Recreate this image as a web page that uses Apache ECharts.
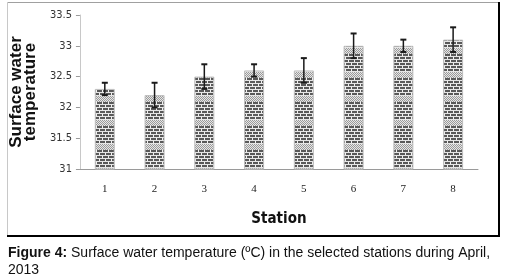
<!DOCTYPE html>
<html>
<head>
    <meta charset="utf-8">
    <title>ECharts</title>
    <script src="https://cdn.jsdelivr.net/npm/echarts@6/dist/echarts.min.js"></script>
    <style>
        body { margin: 0; background: #fff; }
        #main { width: 508px; height: 274px; }
    </style>
</head>
<body>
    <div id="main"></div>
    <script type="text/javascript">
    // data
    var stations = ['1', '2', '3', '4', '5', '6', '7', '8'];
    var temp = [32.3, 32.2, 32.5, 32.6, 32.6, 33.0, 33.0, 33.1];
    var errs = [0.1, 0.2, 0.2, 0.1, 0.2, 0.2, 0.1, 0.2];
    var yTicks = [31, 31.5, 32, 32.5, 33, 33.5];

    var narrow = '"DejaVu Sans Condensed", "Liberation Sans", sans-serif';

    // brick + dotted fill, like the excel pattern
    function makePattern() {
        var c = document.createElement('canvas');
        c.width = 12; c.height = 24;
        var g = c.getContext('2d');
        g.fillStyle = '#e6e6e6';
        g.fillRect(0, 0, 12, 24);
        // dotted part
        g.fillStyle = '#9a9a9a';
        for (var y = 0; y < 6; y++) {
            for (var x = (y % 2); x < 12; x += 2) g.fillRect(x, y, 1, 1);
        }
        // bricks
        for (var r = 0; r < 6; r++) {
            var yy = 6 + r * 3;
            g.fillStyle = '#595959';
            g.fillRect(0, yy, 12, 2);
            g.fillStyle = '#f2f2f2';
            var off = (r % 2) ? 3 : 0;
            g.fillRect(off, yy, 1, 2);
            g.fillRect(off + 6, yy, 1, 2);
        }
        return c;
    }

    var errData = temp.map(function (v, i) { return [i, v - errs[i], v + errs[i]]; });

    var myChart = echarts.init(document.getElementById('main'));
    var option = {
        backgroundColor: '#fff',
        animation: false,
        grid: { left: 79, right: 30, top: 15, bottom: 105 },
        xAxis: {
            type: 'category',
            data: stations,
            axisLine: { lineStyle: { color: '#9a9a9a', width: 1 } },
            axisTick: { show: false },
            axisLabel: { color: '#222', fontFamily: 'Liberation Serif', fontSize: 11, margin: 15 },
            name: 'Station',
            nameLocation: 'middle',
            nameGap: 43,
            nameTextStyle: { color: '#111', fontFamily: narrow, fontWeight: 'bold', fontSize: 15 }
        },
        yAxis: {
            type: 'value',
            min: yTicks[0],
            max: yTicks[yTicks.length - 1],
            interval: 0.5,
            splitLine: { show: false },
            axisLine: { show: true, lineStyle: { color: '#c8c8c8' } },
            axisTick: { show: true, length: 4, lineStyle: { color: '#9a9a9a' } },
            axisLabel: { color: '#333', fontFamily: narrow, fontSize: 11, margin: 8 },
            name: 'Surface water\ntemperature',
            nameLocation: 'middle',
            nameRotate: 90,
            nameGap: 36,
            nameTextStyle: { color: '#111', fontFamily: 'Liberation Sans', fontWeight: 'bold', fontSize: 17, lineHeight: 14 }
        },
        series: [{
            type: 'bar',
            data: temp,
            barWidth: 20,
            itemStyle: {
                color: { image: makePattern(), repeat: 'repeat' },
                borderColor: '#bdbdbd',
                borderWidth: 1
            }
        }, {
            type: 'custom',
            data: errData,
            z: 5,
            renderItem: function (params, api) {
                var lo = api.coord([api.value(0), api.value(1)]);
                var hi = api.coord([api.value(0), api.value(2)]);
                var st = { stroke: '#1a1a1a', lineWidth: 1.5 };
                return {
                    type: 'group',
                    children: [
                        { type: 'line', shape: { x1: hi[0], y1: hi[1], x2: lo[0], y2: lo[1] }, style: st },
                        { type: 'line', shape: { x1: hi[0] - 3, y1: hi[1], x2: hi[0] + 3, y2: hi[1] }, style: { stroke: '#1a1a1a', lineWidth: 2 } },
                        { type: 'line', shape: { x1: lo[0] - 3, y1: lo[1], x2: lo[0] + 3, y2: lo[1] }, style: { stroke: '#1a1a1a', lineWidth: 2 } }
                    ]
                };
            }
        }],
        graphic: [
            // chart frame: light top/left, dark right/bottom
            { type: 'line', shape: { x1: 7.5, y1: 2.5, x2: 499, y2: 2.5 }, style: { stroke: '#a0a0a0', lineWidth: 1 } },
            { type: 'line', shape: { x1: 7.5, y1: 2.5, x2: 7.5, y2: 236 }, style: { stroke: '#c8c8c8', lineWidth: 1 } },
            { type: 'line', shape: { x1: 499, y1: 2, x2: 499, y2: 237 }, style: { stroke: '#000', lineWidth: 2 } },
            { type: 'line', shape: { x1: 7, y1: 236, x2: 500, y2: 236 }, style: { stroke: '#000', lineWidth: 2 } },
            {
                type: 'text', left: 8, top: 245,
                style: {
                    text: '{b|Figure 4:} Surface water temperature (ºC) in the selected stations during April,\n2013',
                    fontFamily: 'Liberation Sans', fontSize: 14, lineHeight: 17, fill: '#111',
                    rich: { b: { fontWeight: 'bold', fontFamily: 'Liberation Sans', fontSize: 14, fill: '#111' } }
                }
            }
        ]
    };
    myChart.setOption(option);
    </script>
</body>
</html>
